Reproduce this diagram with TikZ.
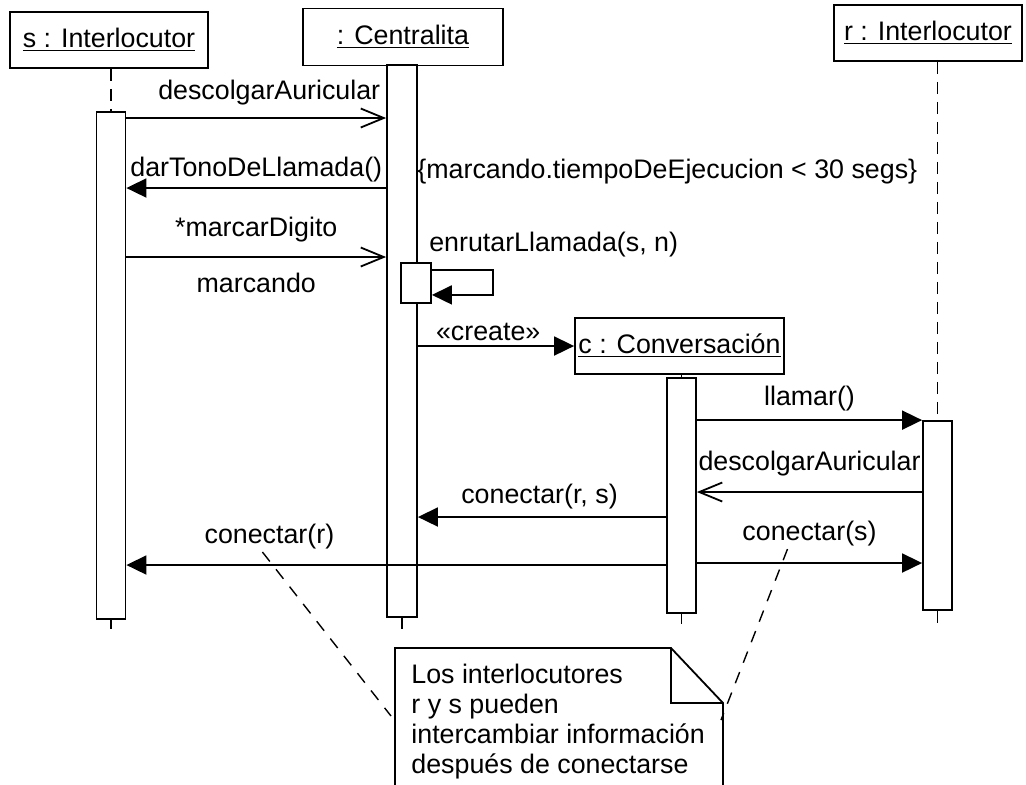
\documentclass[tikz,border=0pt]{standalone}
\usepackage{fontspec}
\setmainfont{Liberation Sans}
\usetikzlibrary{arrows.meta, positioning}

\begin{document}
\begin{tikzpicture}[x=0.5pt, y=-0.5pt,
			font=\fontsize{13.4}{15}\selectfont,
			% Stile per gli oggetti
			objeto/.style={draw, rectangle, line width=0.9pt, inner sep=0pt},
			% Stile per le barre di attivazione
			activ/.style={draw, rectangle, fill=white, line width=0.9pt, inner sep=0pt, minimum width=14.5pt},
			% Stile per i messaggi
			msg/.style={line width=0.9pt, -{Triangle[length=10pt, width=9.5pt]}},
			msgab/.style={line width=0.9pt, -{Straight Barb[length=11.5pt, width=9.5pt]}},
			lbl/.style={inner sep=0pt},
			vida/.style={line width=0.9pt, dash pattern=on 6pt off 4pt},
			ancla/.style={line width=0.7pt, dash pattern=on 6pt off 5pt}
			]
			\useasboundingbox (0,0) rectangle (1026,784);
			\clip (0,0) rectangle (1026,784);
			
			% --- OGGETTI ---
			\node[objeto, minimum width=99pt, minimum height=28pt] (sObj) at (109,40) {\underline{s : Interlocutor}};
			\node[objeto, minimum width=100pt, minimum height=28.5pt] (cenObj) at (403,37) {\underline{: Centralita}};
			\node[objeto, minimum width=94pt, minimum height=28pt] (rObj) at (928,33) {\underline{r : Interlocutor}};
			\node[objeto, minimum width=104.5pt, minimum height=28pt] (cObj) at (679.5,346) {\underline{c : Conversación}};
			
			% --- ATTIVAZIONI ---
			\node[activ, minimum height=253.5pt] (sAct) at (111,365.5) {};
			\node[activ, minimum width=15pt, minimum height=276pt] (cenAct) at (402,341) {};
			\node[activ, minimum width=15pt, minimum height=20pt] (enrAct) at (416,283) {};
			\node[activ, minimum height=117.5pt] (cAct) at (681.5,495.5) {};
			\node[activ, minimum height=94.5pt] (rAct) at (937.5,515.5) {};
			
			% linee di vita
			\draw[vida] (sObj.south -| sAct.north) -- (sAct.north);
			\draw[vida] (rObj.south -| rAct.north) -- (rAct.north);
			\draw[line width=0.9pt] (cObj.south -| cAct.north) -- (cAct.north);
			\foreach \a/\l in {sAct/4.5, cenAct/5.5, cAct/5, rAct/6}{
				\coordinate (\a-fin) at ([yshift=-\l pt]\a.south);
				\draw[line width=0.9pt] (\a.south) -- (\a-fin);
			}
			
			% --- MESSAGGI ---
			\draw[msgab] (sAct.east |- 0,118) -- node[lbl, above=6pt, pos=0.55] {descolgarAuricular} (cenAct.west |- 0,118);
			\draw[msg] (cenAct.west |- 0,188) -- node[lbl, above=2.5pt, pos=0.5] {darTonoDeLlamada()} (sAct.east |- 0,188);
			\node[lbl, anchor=west] (restr) at (417,172) {\{marcando.tiempoDeEjecucion < 30 segs\}};
			\draw[msgab] (sAct.east |- 0,257) -- node[lbl, above=7pt, pos=0.5] {*marcarDigito} node[lbl, below=7.5pt, pos=0.5] {marcando} (cenAct.west |- 0,257);
			
			\draw[msg] ([yshift=-4pt]enrAct.north east) -- ++(61,0) |- ([yshift=4.5pt]enrAct.south east);
			\node[lbl, anchor=south west] (enrLbl) at ([xshift=-1.5pt, yshift=2.5pt]enrAct.north east) {enrutarLlamada(s, n)};
			
			\draw[msg] (cenAct.east |- cObj.west) -- node[lbl, above=2pt, pos=0.45] {«create»} (cObj.west);
			\draw[msg] (cAct.east |- rAct.north) -- node[lbl, above=4pt] {llamar()} (rAct.north west);
			\draw[msgab] (rAct.west |- 0,492) -- node[lbl, above=7.5pt] {descolgarAuricular} (cAct.east |- 0,492);
			\draw[msg] (cAct.west |- 0,517) -- node[lbl, above=3.5pt, pos=0.51] {conectar(r, s)} (cenAct.east |- 0,517);
			\draw[msg] (cAct.east |- 0,563) -- node[lbl, above=8pt] (lblConS) {conectar(s)} (rAct.west |- 0,563);
			\draw[msg] (cAct.west |- 0,565) -- node[lbl, above=7.5pt, pos=0.735] (lblConR) {conectar(r)} (sAct.east |- 0,565);
			
			% --- NOTA ---
			\coordinate (notaL) at (391,716);
			\coordinate (notaR) at (721,720);
			\draw[line width=0.9pt] (395,648) -- (671,648) -- (723,703) -- (723,800) -- (395,800) -- cycle;
			\draw[line width=0.9pt] (671,648) |- (723,703);
			\node[lbl, anchor=north west, align=left] (nota) at (411,664) {Los interlocutores\\r y s pueden\\intercambiar información\\después de conectarse};
			\draw[ancla] ([xshift=-3.5pt, yshift=-1pt]lblConR.south) -- (notaL);
			\draw[ancla] ([xshift=-11pt, yshift=-1pt]lblConS.south) -- (notaR);
			
		\end{tikzpicture}
\end{document}
